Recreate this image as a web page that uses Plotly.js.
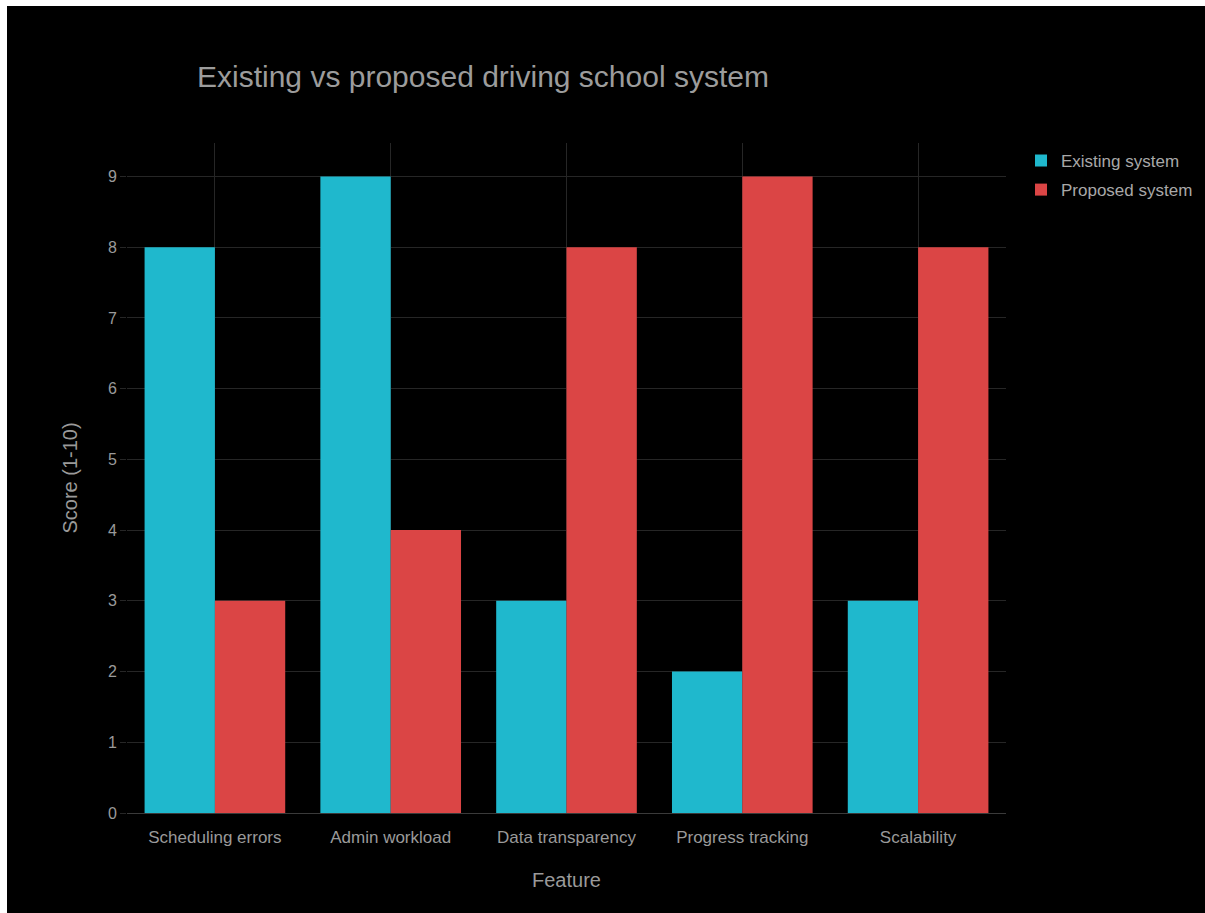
<!DOCTYPE html>
<html>
<head>
<meta charset="utf-8">
<script src="https://cdn.plot.ly/plotly-3.0.1.min.js"></script>
<style>
  html, body { margin: 0; padding: 0; background: #ffffff; }
  #chart { position: absolute; left: 7px; top: 6px; width: 1198px; height: 907px; }
</style>
</head>
<body>
<div id="chart"></div>
<script>
const features = ["Scheduling errors", "Admin workload", "Data transparency", "Progress tracking", "Scalability"];
const existingScores = [8, 9, 3, 2, 3];
const proposedScores = [3, 4, 8, 9, 8];
const seriesNames = ["Existing system", "Proposed system"];
const seriesColors = ["#1FB8CD", "#DB4545"];

const traces = [
  { type: "bar", x: features, y: existingScores, name: seriesNames[0],
    marker: { color: seriesColors[0] }, legendgroup: "a" },
  { type: "bar", x: features, y: proposedScores, name: seriesNames[1],
    marker: { color: seriesColors[1] }, legendgroup: "b" }
];

const fontFam = "Liberation Sans, Arial, sans-serif";
const layout = {
  width: 1198, height: 907,
  paper_bgcolor: "#000000",
  plot_bgcolor: "#000000",
  font: { family: fontFam, color: "#9a9a9a", size: 16 },
  title: { text: "Existing vs proposed driving school system", font: { size: 30, color: "#9c9c9c", family: fontFam },
           xref: "container", x: 0.1586, xanchor: "left", yref: "container", y: 0.922, yanchor: "middle" },
  margin: { l: 120, r: 199, t: 137, b: 100 },
  barmode: "group",
  bargap: 0.2,
  bargroupgap: 0,
  xaxis: {
    title: { text: "Feature", font: { size: 20, color: "#9a9a9a" }, standoff: 26 },
    tickfont: { size: 17, color: "#9a9a9a" },
    ticklabelstandoff: 9,
    showgrid: true, gridcolor: "#262626",
    showline: true, linecolor: "#3a3a3a",
    zeroline: false
  },
  yaxis: {
    title: { text: "Score (1-10)", font: { size: 20, color: "#9a9a9a" }, standoff: 24 },
    tickfont: { size: 16, color: "#9a9a9a" },
    dtick: 1,
    showgrid: true, gridcolor: "#262626",
    ticks: "outside", ticklen: 6, tickcolor: "#262626",
    zeroline: true, zerolinecolor: "#3a3a3a",
    showline: false
  },
  legend: {
    xref: "container", yref: "container",
    x: 0.8464, xanchor: "left", y: 0.849, yanchor: "top",
    font: { size: 17, color: "#a8a8a8" },
    traceorder: "grouped", tracegroupgap: 4,
    bgcolor: "rgba(0,0,0,0)"
  },
  showlegend: true
};

Plotly.newPlot("chart", traces, layout, { displayModeBar: false, staticPlot: true });
</script>
</body>
</html>
